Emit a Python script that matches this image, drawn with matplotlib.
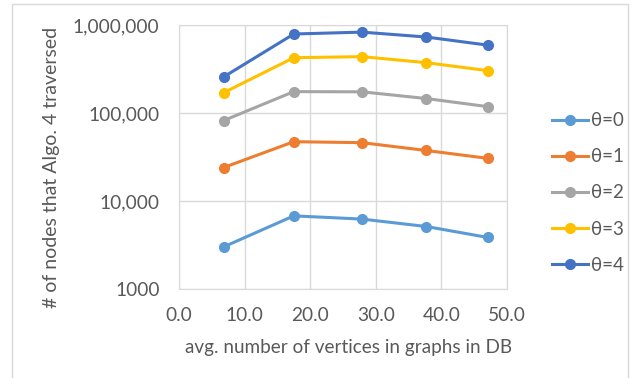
import numpy as np
import matplotlib
matplotlib.use('Agg')
import matplotlib.pyplot as plt
from matplotlib.patches import Rectangle
from matplotlib.ticker import FixedLocator, NullLocator

plt.rcParams['font.family'] = ['Lato', 'DejaVu Sans']

avgVertices = [6.8, 17.5, 27.9, 37.7, 47.1]
theta0 = [3010, 6780, 6230, 5130, 3850]
theta1 = [24000, 47200, 46000, 37500, 30500]
theta2 = [82000, 175000, 174000, 146000, 118000]
theta3 = [170000, 425000, 437000, 373000, 303000]
theta4 = [257000, 790000, 830000, 730000, 590000]
seriesLabels = ['θ=0', 'θ=1', 'θ=2', 'θ=3', 'θ=4']
seriesColors = ['#5B9BD5', '#ED7D31', '#A5A5A5', '#FFC000', '#4472C4']
yTicks = [1000, 10000, 100000, 1000000]
yTickLabels = ['1000', '10,000', '100,000', '1,000,000']
xTicks = [0, 10, 20, 30, 40, 50]

txtColor = '#595959'
gridColor = '#D9D9D9'

fig = plt.figure(figsize=(6.4, 3.78), dpi=100)
fig.patches.append(Rectangle((12/640, -0.01), 616/640, 1 - 4.5/378 + 0.01,
                             transform=fig.transFigure, fill=False,
                             edgecolor=gridColor, linewidth=1))
ax = fig.add_axes([179/640, 1 - 289/378, 328/640, 264/378])

allSeries = [theta0, theta1, theta2, theta3, theta4]
for vals, lab, col in zip(allSeries, seriesLabels, seriesColors):
    ax.plot(avgVertices, vals, color=col, linewidth=2.2, marker='o',
            markersize=7, label=lab)

ax.set_yscale('log')
ax.set_ylim(1000, 1000000)
ax.set_xlim(0, 50)
ax.yaxis.set_major_locator(FixedLocator(yTicks))
ax.yaxis.set_minor_locator(NullLocator())
ax.set_yticklabels(yTickLabels)
ax.set_xticks(xTicks)
ax.set_xticklabels(['{:.1f}'.format(v) for v in xTicks])
ax.tick_params(length=0, labelsize=13.8, colors=txtColor)
ax.tick_params(axis='y', pad=14)
ax.tick_params(axis='x', pad=13)
ax.grid(True, color=gridColor, linewidth=1)
ax.set_axisbelow(True)
for s in ax.spines.values():
    s.set_color(gridColor)

fig.text(349/640, 1 - 347/378, 'avg. number of vertices in graphs in DB',
         ha='center', va='center', fontsize=13.6, color=txtColor)
fig.text(52/640, 1 - 167/378, '# of nodes that Algo. 4 traversed',
         ha='center', va='center', rotation=90, fontsize=14, color=txtColor)

leg = fig.legend(loc='center left', bbox_to_anchor=(535/640, 1 - 193/378),
                 frameon=False, fontsize=13.5, labelspacing=1.02,
                 handlelength=1.9, handletextpad=0.2, labelcolor=txtColor)

fig.savefig('out.png', dpi=100)
